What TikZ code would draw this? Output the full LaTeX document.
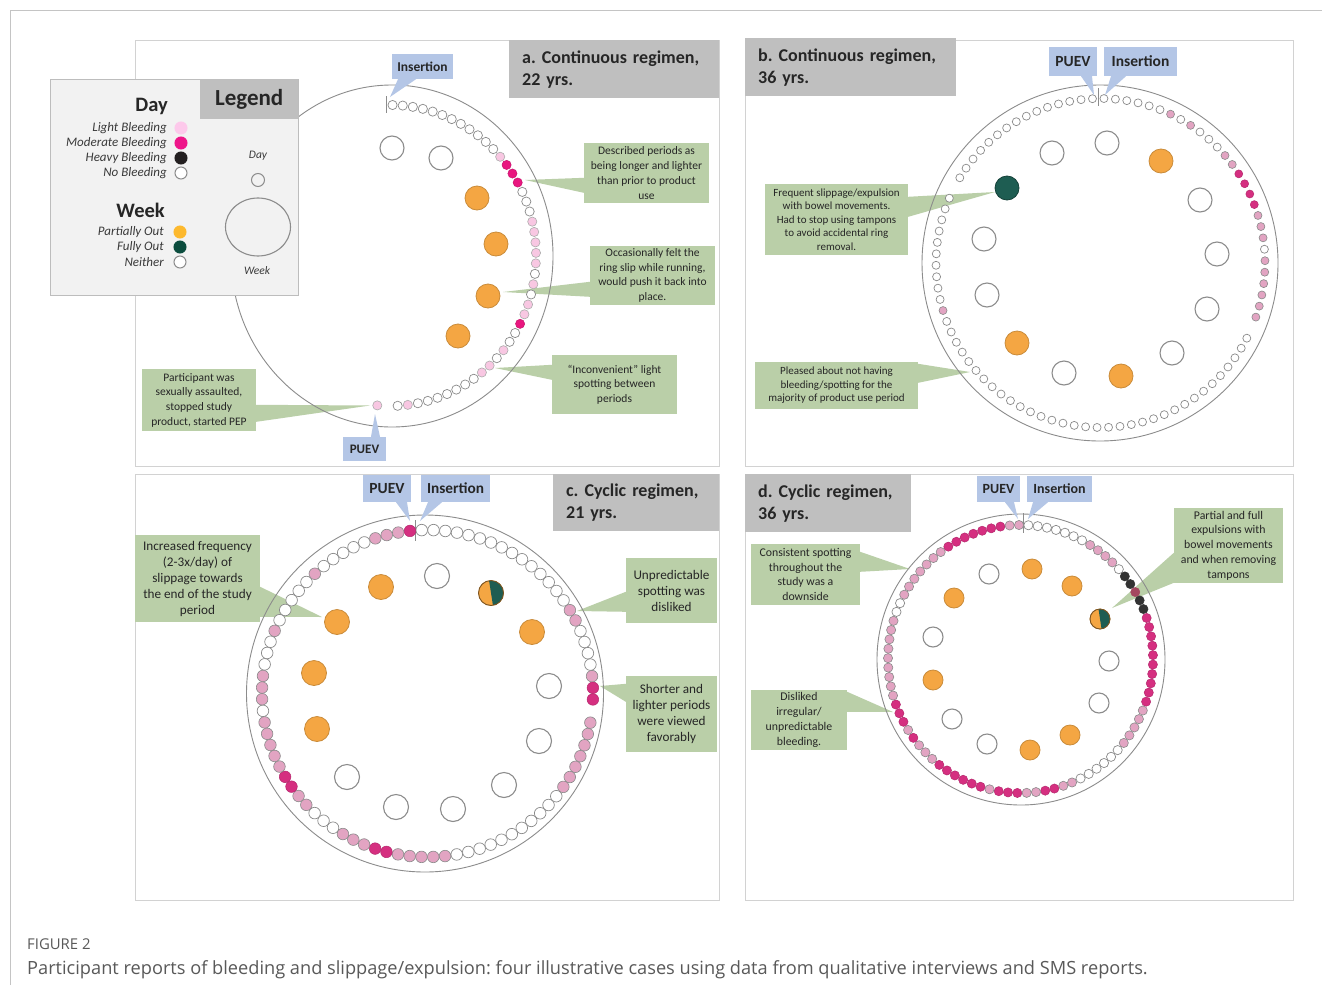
\documentclass[tikz,border=0pt]{standalone}
\usepackage{fontspec}
\setmainfont{Carlito}
\newfontfamily\capfont{Open Sans}
\usetikzlibrary{calc}
\frenchspacing

% ---------- colours ----------
\definecolor{framegray}{HTML}{C4C4C4}
\definecolor{panelgray}{HTML}{D2D2D2}
\definecolor{titlegray}{HTML}{BFBFBF}
\definecolor{legendbg}{HTML}{F2F2F2}
\definecolor{legendline}{HTML}{BDBDBD}
\definecolor{callgreen}{HTML}{BACFA8}
\definecolor{labelblue}{HTML}{B4C6E6}
\definecolor{ringgray}{HTML}{8C8C8C}
\definecolor{dotgray}{HTML}{8A8A8A}
\definecolor{wkorange}{HTML}{F4A643}
\definecolor{wkorangeline}{HTML}{C98B3A}
\definecolor{wkteal}{HTML}{1E5D52}
\definecolor{paleL}{HTML}{F8C7E2}
\definecolor{hotM}{HTML}{E9167F}
\definecolor{dustyL}{HTML}{E2A4C2}
\definecolor{deepM}{HTML}{D52F80}
\definecolor{heavyH}{HTML}{333333}
\definecolor{maroonR}{HTML}{A4475F}
\definecolor{inktext}{HTML}{262626}
\definecolor{legtext}{HTML}{3A3A3A}
\definecolor{captext}{HTML}{595959}
\definecolor{legL}{HTML}{FDC9EB}
\definecolor{legM}{HTML}{EE1589}
\definecolor{legH}{HTML}{231F20}
\definecolor{legO}{HTML}{FDB92E}
\definecolor{legG}{HTML}{0B4C3D}

% ---------- fonts ----------
\newcommand\ftA{\fontsize{11.5}{14.7}\selectfont}
\newcommand\ftB{\fontsize{11}{13.6}\selectfont}
\newcommand\ftC{\fontsize{13.2}{16}\selectfont}
\newcommand\ftD{\fontsize{11.8}{14.8}\selectfont}
\newcommand\fttitle{\fontsize{18}{22}\selectfont\bfseries}

\def\wksize{24pt}

\tikzset{
  every node/.style={text=inktext},
  dayn/.style={draw=dotgray, fill=white, line width=0.7pt},
  dayL/.style={draw=dotgray!70, fill=paleL, line width=0.6pt},
  dayM/.style={draw=hotM!85!black, fill=hotM, line width=0.5pt},
  dayl/.style={draw=dotgray, fill=dustyL, line width=0.6pt},
  daym/.style={draw=deepM!85!black, fill=deepM, line width=0.5pt},
  dayh/.style={draw=heavyH, fill=heavyH, line width=0.5pt},
  dayr/.style={draw=maroonR, fill=maroonR, line width=0.5pt},
  dayx/.style={},
  wkbase/.style={circle, inner sep=0pt, minimum size=\wksize},
  wkn/.style={wkbase, draw=ringgray, fill=white, line width=1.1pt},
  wko/.style={wkbase, draw=wkorangeline, fill=wkorange, line width=0.8pt},
  wkg/.style={wkbase, draw=wkteal!70!black, fill=wkteal, line width=0.8pt},
  notebox/.style={fill=callgreen, inner sep=2pt, align=center, text=inktext},
  callwedge/.style={fill=callgreen},
  ptag/.style={fill=labelblue, inner sep=0pt, font=\bfseries, text=inktext},
  tagwedge/.style={fill=labelblue},
  titlebox/.style={fill=titlegray, anchor=north west, inner xsep=13pt, inner ysep=0pt,
                   align=left, font=\fttitle, text=inktext},
  panelframe/.style={draw=panelgray, line width=0.8pt},
  outerring/.style={draw=ringgray, line width=0.9pt},
  insmark/.style={draw=ringgray, line width=0.9pt},
  legitem/.style={anchor=east, inner sep=0pt, text=legtext, font=\fontsize{13}{14}\selectfont\itshape},
  legdot/.style={circle, inner sep=0pt, minimum size=12pt},
}

% one ring of daily dots: cx, cy, rx, ry, first angle, step, dot radius, codes
\newcommand\dayring[8]{%
  \foreach \dc [count=\di from 0] in {#8}{%
    \pgfmathsetmacro\dang{#5+#6*\di}%
    \path[day\dc] ({#1+#3*cos(\dang)},{#2+#4*sin(\dang)}) circle[radius=#7pt];
  }%
}

\begin{document}
\begin{tikzpicture}[x=1pt,y=-1pt]
\useasboundingbox (0,0) rectangle (1322,985);
\fill[white] (0,0) rectangle (1322,985);

% page frame
\draw[framegray, line width=0.8pt] (10,985) -- (10,10) -- (1322,10);

% panel frames
\draw[panelframe] (135,40) rectangle (719,466);
\draw[panelframe] (745,40) rectangle (1293,466);
\draw[panelframe] (135,474) rectangle (719,900);
\draw[panelframe] (745,474) rectangle (1293,900);

%================ panel a ================
\node[notebox, minimum width=125pt, minimum height=60pt, font=\ftA] (a-c1) at (646.5,173)
  {Described periods as\\being longer and lighter\\than prior to product\\use};
\coordinate (a-p1) at (525,180);
\fill[callwedge] ($(a-c1.north west)+(0,35)$) -- (a-p1) -- ($(a-c1.north west)+(0,50)$) -- cycle;

\node[notebox, minimum width=125pt, minimum height=59pt, font=\ftA] (a-c2) at (652.5,275.5)
  {Occasionally felt the\\ring slip while running,\\would push it back into\\place.};
\coordinate (a-p2) at (503,292);
\fill[callwedge] ($(a-c2.north west)+(0,36)$) -- (a-p2) -- ($(a-c2.north west)+(0,51)$) -- cycle;

\node[notebox, minimum width=125pt, minimum height=59pt, font=\ftA] (a-c3) at (614.5,384.5)
  {``Inconvenient'' light\\spotting between\\periods};
\coordinate (a-p3) at (495,368);
\fill[callwedge] ($(a-c3.north west)+(0,10)$) -- (a-p3) -- ($(a-c3.north west)+(0,25)$) -- cycle;

\node[notebox, minimum width=114pt, minimum height=62pt, font=\ftA] (a-c4) at (199,400)
  {Participant was\\sexually assaulted,\\stopped study\\product, started PEP};
\coordinate (a-p4) at (370,405.5);
\fill[callwedge] ($(a-c4.north east)+(0,36)$) -- (a-p4) -- ($(a-c4.north east)+(0,53)$) -- cycle;

\draw[outerring] (392,256) ellipse [x radius=161pt, y radius=171pt];
\draw[insmark] (386,96) -- (386,113);
\dayring{390}{255.5}{146}{150.5}{-89}{4}{4.6}{n,n,n,n,n,n,n,n,n,n,n,n,L,M,M,M,n,n,n,L,L,L,L,L,n,L,n,L,L,M,n,n,L,n,L,L,n,n,n,n,n,n,n,L,n}
\path[dayL] (377.3,405.4) circle[radius=4.6pt];

\def\wksize{24pt}
\foreach \ws/\wx/\wy [count=\wi] in {wkn/392/148, wkn/441/158, wko/477/198, wko/496/244, wko/488/296, wko/458/336}
  \node[\ws] (a-w\wi) at (\wx,\wy) {};

\node[ptag, minimum width=61pt, minimum height=25pt, font=\fontsize{13.5}{15}\selectfont\bfseries] (a-ins) at (422.5,66.5) {Insertion};
\coordinate (a-insp) at (390,97);
\fill[tagwedge] ($(a-ins.south)+(-24.5,0)$) -- (a-insp) -- ($(a-ins.south)+(-6.5,0)$) -- cycle;
\node[ptag, minimum width=43pt, minimum height=24pt, font=\fontsize{13}{15}\selectfont\bfseries] (a-puev) at (364.5,449) {PUEV};
\coordinate (a-puevp) at (375,414);
\fill[tagwedge] ($(a-puev.north)+(6.5,0)$) -- (a-puevp) -- ($(a-puev.north)+(15.5,0)$) -- cycle;

\node[titlebox, text width=184pt, minimum height=58pt] (a-title) at (509,40) {a. Continuous regimen,\\22 yrs.};

%================ legend ================
\node[draw=legendline, fill=legendbg, line width=0.8pt, anchor=north west, minimum width=248pt, minimum height=216pt, inner sep=0pt] (leg) at (50,79) {};
\node[fill=titlegray, anchor=north west, minimum width=98pt, minimum height=40pt, inner sep=0pt, font=\fontsize{23}{26}\selectfont\bfseries] (leg-head) at (200,79) {Legend};
\node[anchor=east, inner sep=0pt, font=\fontsize{20.5}{22}\selectfont\bfseries] (leg-day) at (168,106) {Day};
\node[anchor=east, inner sep=0pt, font=\fontsize{20.5}{22}\selectfont\bfseries] (leg-week) at (165,210) {Week};
\foreach \lt/\ly/\lf/\ld [count=\li] in {Light Bleeding/128/legL/legL, Moderate Bleeding/143/legM/legM, Heavy Bleeding/158/legH/legH, No Bleeding/173/white/ringgray}{
  \node[legitem] (leg-t\li) at (167,\ly) {\lt};
  \node[legdot, fill=\lf, draw=\ld, line width=1pt] (leg-d\li) at (181,\ly) {};
}
\foreach \lt/\ly/\lf/\ld [count=\li] in {Partially Out/232/legO/legO, Fully Out/247/legG/legG, Neither/262/white/ringgray}{
  \node[legitem] (leg-u\li) at (164,\ly) {\lt};
  \node[legdot, fill=\lf, draw=\ld, line width=1pt] (leg-e\li) at (180,\ly) {};
}
\node[inner sep=0pt, text=legtext, font=\fontsize{11.5}{13}\selectfont\itshape] (leg-sday) at (258,156) {Day};
\node[circle, draw=ringgray, line width=1pt, minimum size=13pt, inner sep=0pt] (leg-sdot) at (258,180) {};
\draw[ringgray, line width=1.1pt] (258,227) ellipse [x radius=32.5pt, y radius=29pt];
\node[inner sep=0pt, text=legtext, font=\fontsize{11.5}{13}\selectfont\itshape] (leg-sweek) at (257,271) {Week};

%================ panel b ================
\node[notebox, minimum width=143pt, minimum height=71pt, font=\ftB] (b-c1) at (836.5,219.5)
  {Frequent slippage/expulsion\\with bowel movements.\\Had to stop using tampons\\to avoid accidental ring\\removal.};
\coordinate (b-p1) at (995,192);
\fill[callwedge] ($(b-c1.north east)+(0,13)$) -- (b-p1) -- ($(b-c1.north east)+(0,33)$) -- cycle;

\node[notebox, minimum width=163pt, minimum height=47pt, font=\ftB] (b-c2) at (836.5,385.5)
  {Pleased about not having\\bleeding/spotting for the\\majority of product use period};
\coordinate (b-p2) at (970,372);
\fill[callwedge] ($(b-c2.north east)+(0,2)$) -- (b-p2) -- ($(b-c2.north east)+(0,21)$) -- cycle;

\draw[outerring] (1100,263) circle [radius=178pt];
\draw[insmark] (1098,88) -- (1098,106);
\dayring{1100.5}{263}{164.5}{164.5}{-88.8}{4}{4}{n,n,n,n,n,n,l,n,l,n,n,n,l,l,m,m,m,m,l,l,l,n,l,l,l,l,l,l,x,n,n,n,n,n,n,n,n,n,n,n,n,n,n,n,n,n,n,n,n,n,n,n,n,n,n,n,n,n,n,n,n,n,n,l,n,n,n,n,n,n,n,n,n,n,x,n,n,n,n,n,n,n,n,n,n,n,n,n,n,n}

\def\wksize{24pt}
\foreach \ws/\wx/\wy [count=\wi] in {wkn/1052/153, wkn/1107/143, wko/1161/161, wkn/1200/200, wkn/1217/254, wkn/1207/309, wkn/1172/353, wko/1121/376, wkn/1064/373, wko/1017/343, wkn/987/295, wkn/984/239, wkg/1007/188}
  \node[\ws] (b-w\wi) at (\wx,\wy) {};

\node[ptag, minimum width=48pt, minimum height=29pt, font=\fontsize{15.5}{17}\selectfont\bfseries] (b-puev) at (1073,61.5) {PUEV};
\coordinate (b-puevp) at (1094,95);
\fill[tagwedge] ($(b-puev.south)+(8,0)$) -- (b-puevp) -- ($(b-puev.south)+(19,0)$) -- cycle;
\node[ptag, minimum width=73pt, minimum height=29pt, font=\fontsize{15.5}{17}\selectfont\bfseries] (b-ins) at (1140.5,61.5) {Insertion};
\coordinate (b-insp) at (1105,95);
\fill[tagwedge] ($(b-ins.south)+(-29.5,0)$) -- (b-insp) -- ($(b-ins.south)+(-14.5,0)$) -- cycle;

\node[titlebox, text width=185pt, minimum height=58pt] (b-title) at (745,38) {b. Continuous regimen,\\36 yrs.};

%================ panel c ================
\node[notebox, minimum width=125pt, minimum height=87pt, font=\ftC] (c-c1) at (197.5,578.5)
  {Increased frequency\\(2-3x/day) of\\slippage towards\\the end of the study\\period};
\coordinate (c-p1) at (322,617);
\fill[callwedge] ($(c-c1.north east)+(0,52)$) -- (c-p1) -- ($(c-c1.north east)+(0,82)$) -- cycle;

\node[notebox, minimum width=91pt, minimum height=65pt, font=\ftC] (c-c2) at (671.5,590.5)
  {Unpredictable\\spotting was\\disliked};
\coordinate (c-p2) at (577,611);
\fill[callwedge] ($(c-c2.north west)+(0,34)$) -- (c-p2) -- ($(c-c2.north west)+(0,54)$) -- cycle;

\node[notebox, minimum width=91pt, minimum height=76pt, font=\ftC] (c-c3) at (671.5,714)
  {Shorter and\\lighter periods\\were viewed\\favorably};
\coordinate (c-p3) at (600,686);
\fill[callwedge] ($(c-c3.north west)+(0,8)$) -- (c-p3) -- ($(c-c3.north west)+(0,26)$) -- cycle;

\draw[outerring] (425,693.5) circle [radius=178.5pt];
\draw[insmark] (415,520) -- (415,541);
\dayring{427.5}{693.5}{165.5}{163.5}{-92}{4.0909}{5.8}{n,n,n,n,n,n,n,n,n,n,n,n,n,n,n,l,l,n,n,n,n,l,m,m,x,l,l,l,l,l,l,l,n,n,n,n,n,n,n,n,n,n,n,l,l,l,l,l,m,m,l,l,l,n,n,n,l,l,m,m,l,l,l,l,l,n,l,l,l,n,n,n,l,n,n,n,n,n,l,n,n,n,n,n,l,l,l,m}

\def\wksize{25pt}
\foreach \ws/\wx/\wy [count=\wi] in {wkn/437/576, wko/491/593, wko/532/632, wkn/549/686, wkn/539/741, wkn/504/785, wkn/453/809, wkn/396/807, wkn/347/777, wko/317/729, wko/314/673, wko/337/622, wko/381/587}
  \node[\ws] (c-w\wi) at (\wx,\wy) {};
\begin{scope}
  \clip ($(c-w2.center)+(-2.2,-14)$) -- ($(c-w2.center)+(2.2,14)$) -- ($(c-w2.center)+(20,14)$) -- ($(c-w2.center)+(20,-14)$) -- cycle;
  \fill[wkteal] (c-w2.center) circle[radius=12.5pt];
\end{scope}
\draw[wkorangeline!60!black, line width=0.8pt] (c-w2.center) circle[radius=12.5pt];

\node[ptag, minimum width=48pt, minimum height=27pt, font=\fontsize{15.5}{17}\selectfont\bfseries] (c-puev) at (387,488.5) {PUEV};
\coordinate (c-puevp) at (410,521);
\fill[tagwedge] ($(c-puev.south)+(9,0)$) -- (c-puevp) -- ($(c-puev.south)+(20,0)$) -- cycle;
\node[ptag, minimum width=69pt, minimum height=27pt, font=\fontsize{15.3}{17}\selectfont\bfseries] (c-ins) at (455.5,488.5) {Insertion};
\coordinate (c-insp) at (420,521);
\fill[tagwedge] ($(c-ins.south)+(-27.5,0)$) -- (c-insp) -- ($(c-ins.south)+(-13.5,0)$) -- cycle;

\node[titlebox, text width=140pt, minimum height=57pt] (c-title) at (553,474) {c. Cyclic regimen,\\21 yrs.};

%================ panel d ================
\node[notebox, minimum width=109pt, minimum height=61pt, font=\ftD] (d-c1) at (805.5,574.5)
  {Consistent spotting\\throughout the\\study was a\\downside};
\coordinate (d-p1) at (910,569);
\fill[callwedge] ($(d-c1.north east)+(0,8)$) -- (d-p1) -- ($(d-c1.north east)+(0,28)$) -- cycle;

\node[notebox, minimum width=96pt, minimum height=60pt, font=\ftD] (d-c2) at (799,720)
  {Disliked\\irregular/\\unpredictable\\bleeding.};
\coordinate (d-p2) at (893,712);
\fill[callwedge] ($(d-c2.north east)+(0,2)$) -- (d-p2) -- ($(d-c2.north east)+(0,22)$) -- cycle;

\node[notebox, minimum width=109pt, minimum height=75pt, font=\ftD] (d-c3) at (1228.5,545.5)
  {Partial and full\\expulsions with\\bowel movements\\and when removing\\tampons};
\coordinate (d-p3) at (1112,608);
\fill[callwedge] ($(d-c3.north west)+(0,45)$) -- (d-p3) -- ($(d-c3.north west)+(0,75)$) -- cycle;

\draw[outerring] (1021,659.5) ellipse [x radius=144pt, y radius=145.5pt];
\draw[insmark] (1023,513) -- (1023,533);
\dayring{1020.5}{659}{132.5}{134}{-86.6}{4.0449}{4.6}{n,n,n,n,n,n,n,l,l,l,l,n,h,h,r,h,h,m,m,m,m,m,m,m,m,m,m,l,l,l,l,l,n,n,n,n,n,n,l,l,m,m,l,l,m,m,m,l,m,m,m,m,m,m,l,l,l,m,l,m,m,m,l,l,l,l,l,l,l,l,l,n,n,l,l,l,l,l,l,l,m,m,m,m,m,m,m,l,l}

\def\wksize{20pt}
\foreach \ws/\wx/\wy [count=\wi] in {wko/1032/569, wko/1072/586, wko/1100/619, wkn/1109/661, wkn/1099/703, wko/1070/735, wko/1030/750, wkn/987/744, wkn/952/719, wko/933/680, wkn/933/637, wko/954/598, wkn/989/574}
  \node[\ws] (d-w\wi) at (\wx,\wy) {};
\begin{scope}
  \clip ($(d-w3.center)+(-1.8,-12)$) -- ($(d-w3.center)+(1.8,12)$) -- ($(d-w3.center)+(16,12)$) -- ($(d-w3.center)+(16,-12)$) -- cycle;
  \fill[wkteal] (d-w3.center) circle[radius=10pt];
\end{scope}
\draw[wkorangeline!60!black, line width=0.8pt] (d-w3.center) circle[radius=10pt];

\node[ptag, minimum width=43pt, minimum height=26pt, font=\fontsize{14}{16}\selectfont\bfseries] (d-puev) at (998.5,489) {PUEV};
\coordinate (d-puevp) at (1018,519);
\fill[tagwedge] ($(d-puev.south)+(6.5,0)$) -- (d-puevp) -- ($(d-puev.south)+(15.5,0)$) -- cycle;
\node[ptag, minimum width=65pt, minimum height=26pt, font=\fontsize{14}{16}\selectfont\bfseries] (d-ins) at (1059.5,489) {Insertion};
\coordinate (d-insp) at (1028,519);
\fill[tagwedge] ($(d-ins.south)+(-26.5,0)$) -- (d-insp) -- ($(d-ins.south)+(-11.5,0)$) -- cycle;

\node[titlebox, text width=140pt, minimum height=58pt] (d-title) at (745,474) {d. Cyclic regimen,\\36 yrs.};

%================ caption ================
\node[anchor=base west, inner sep=0pt, text=captext, font=\capfont\fontsize{14.9}{16}\selectfont] (figlab) at (27,949) {FIGURE 2};
\node[anchor=base west, inner sep=0pt, text=captext, font=\capfont\fontsize{18.2}{20}\selectfont] (figcap) at (27,974)
  {Participant reports of bleeding and slippage/expulsion: four illustrative cases using data from qualitative interviews and SMS reports.};
\end{tikzpicture}
\end{document}
